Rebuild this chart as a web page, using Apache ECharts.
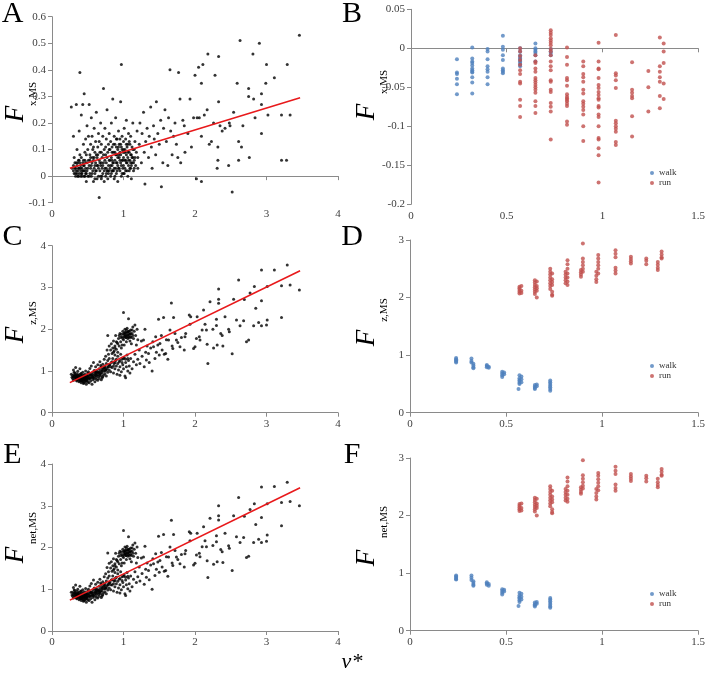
<!DOCTYPE html>
<html><head><meta charset="utf-8">
<script src="https://cdn.jsdelivr.net/npm/echarts@6/dist/echarts.min.js"></script>
<style>html,body{margin:0;padding:0;background:#fff}#c{width:708px;height:679px}</style>
</head><body><div id="c"></div>
<script>
// ---------- Panel A: F_x,MS vs v* (all trials) ----------
const fxTrials = [
[0.27,0.26],[0.3,0.15],[0.3,0.04],[0.3,0.02],[0.32,0.05],[0.33,0.01],[0.33,0.03],[0.34,0.27],[0.35,0.1],[0.35,0.04],[0.36,0.0],[0.36,0.02],[0.37,0.06],[0.37,0.03],[0.38,0.01],[0.38,0.17],[0.39,0.39],[0.39,0.05],[0.4,0.02],[0.4,0.04],[0.4,0.0],[0.41,0.07],[0.41,0.23],[0.42,0.03],[0.42,0.01],[0.43,0.05],[0.43,0.27],[0.44,0.02],[0.44,0.12],[0.45,0.04],[0.45,0.0],[0.45,0.31],[0.46,0.06],[0.46,0.02],[0.47,0.14],[0.47,0.03],[0.48,0.01],[0.48,0.08],[0.48,-0.02],[0.49,0.05],[0.49,0.19],[0.5,0.03],[0.5,0.1],[0.5,0.0],[0.28,0.03],[0.31,0.07],[0.34,0.02],[0.36,0.05],[0.39,0.08],[0.42,0.0],[0.44,0.06],[0.46,0.09],[0.47,0.01],[0.33,0.0],[0.38,0.03],
[0.51,0.15],[0.52,0.04],[0.52,0.27],[0.53,0.01],[0.53,0.08],[0.54,0.12],[0.54,0.03],[0.55,0.22],[0.55,0.0],[0.56,0.05],[0.56,0.15],[0.57,0.02],[0.57,0.1],[0.58,0.06],[0.58,-0.02],[0.59,0.18],[0.59,0.03],[0.6,0.09],[0.6,0.01],[0.61,0.13],[0.61,0.05],[0.62,0.24],[0.62,0.02],[0.63,0.07],[0.63,-0.01],[0.64,0.11],[0.64,0.04],[0.65,0.16],[0.65,0.0],[0.66,0.06],[0.66,-0.08],[0.67,0.09],[0.67,0.02],[0.68,0.2],[0.68,0.04],[0.69,0.12],[0.69,-0.01],[0.7,0.07],[0.7,0.03],[0.71,0.15],[0.71,0.01],[0.72,0.33],[0.72,0.05],[0.73,0.1],[0.73,-0.02],[0.74,0.18],[0.74,0.03],[0.75,0.08],[0.75,0.0],[0.76,0.14],[0.76,0.05],[0.77,0.25],[0.77,0.02],[0.78,0.09],[0.78,-0.01],[0.79,0.12],[0.79,0.04],[0.8,0.06],[0.8,0.16],[0.62,0.08],[0.66,0.13],[0.7,0.0],[0.74,0.06],[0.78,0.02],[0.57,0.07],[0.53,0.06],[0.6,0.04],[0.69,0.05],[0.76,0.01],[0.8,0.02],
[0.81,0.1],[0.81,0.03],[0.82,0.13],[0.82,0.0],[0.83,0.07],[0.83,0.2],[0.84,0.04],[0.84,0.11],[0.85,0.02],[0.85,0.29],[0.86,0.09],[0.86,0.05],[0.87,0.15],[0.87,-0.01],[0.88,0.06],[0.88,0.12],[0.89,0.03],[0.89,0.22],[0.9,0.08],[0.9,0.01],[0.91,0.14],[0.91,0.05],[0.92,0.1],[0.92,-0.02],[0.93,0.17],[0.93,0.03],[0.94,0.07],[0.94,0.12],[0.95,0.02],[0.95,0.09],[0.96,0.28],[0.96,0.05],[0.97,0.42],[0.97,0.11],[0.97,0.0],[0.98,0.06],[0.98,0.15],[0.99,0.03],[0.99,0.09],[1.0,0.13],[1.0,0.04],[1.0,0.07],[1.01,0.18],[1.01,0.01],[1.02,0.1],[1.02,0.06],[1.03,0.14],[1.03,0.02],[1.04,0.08],[1.04,0.21],[1.05,0.05],[1.05,0.11],[1.06,0.0],[1.06,0.07],[1.07,0.16],[1.07,0.04],[1.08,0.09],[1.08,0.02],[1.09,0.12],[1.09,0.06],[1.1,0.03],[1.1,0.15],[1.11,0.08],[1.11,-0.01],[1.12,0.11],[1.12,0.05],[1.13,0.2],[1.13,0.07],[1.14,0.02],[1.15,0.1],[1.15,0.06],[1.16,0.13],[1.17,0.04],[1.18,0.09],[1.19,0.17],[1.2,0.03],[1.2,0.07],[0.9,0.11],[0.95,0.06],[1.02,0.09],[1.06,0.12],[0.86,0.02],[0.93,0.08],[1.1,0.05],[0.84,0.06],
[0.31,0.01],[0.32,0.03],[0.34,0.05],[0.35,0.01],[0.37,0.0],[0.38,0.06],[0.4,0.03],[0.41,0.01],[0.43,0.02],[0.44,0.04],[0.46,0.0],[0.47,0.05],[0.49,0.02],[0.51,0.06],[0.52,0.0],[0.54,0.07],[0.55,0.04],[0.56,0.01],[0.58,0.11],[0.59,0.07],[0.6,-0.01],[0.61,0.02],[0.63,0.04],[0.64,0.08],[0.65,0.03],[0.67,0.05],[0.68,0.0],[0.69,0.09],[0.71,0.04],[0.72,0.08],[0.73,0.02],[0.75,0.11],[0.76,0.03],[0.77,0.07],[0.79,0.01],[0.8,0.1],[0.81,0.06],[0.82,0.04],[0.83,0.01],[0.84,0.09],[0.85,0.05],[0.86,0.12],[0.87,0.03],[0.88,0.0],[0.89,0.08],[0.9,0.05],[0.91,0.02],[0.92,0.07],[0.93,0.11],[0.94,0.03],[0.95,0.14],[0.96,0.08],[0.97,0.04],[0.98,0.1],[0.99,0.06],[1.0,0.01],[1.01,0.09],[1.02,0.03],[1.03,0.06],[1.04,0.12],[1.05,0.02],[1.06,0.09],[1.07,0.06],[1.08,0.13],[1.09,0.03],[1.1,0.08],[1.11,0.04],[1.12,0.07],[1.13,0.1],[1.14,0.05],[1.15,0.03],[1.16,0.07],[0.92,0.04],[0.98,0.01],[1.04,0.05],[0.88,0.09],[0.96,0.12],[1.0,0.1],[0.84,0.02],[0.9,0.14],
[1.22,0.12],[1.23,0.2],[1.25,0.05],[1.26,0.16],[1.28,0.24],[1.29,0.09],[1.3,-0.03],[1.31,0.13],[1.33,0.18],[1.35,0.07],[1.36,0.15],[1.38,0.26],[1.39,0.11],[1.4,0.03],[1.42,0.19],[1.43,0.14],[1.45,0.08],[1.46,0.28],[1.48,0.16],[1.5,0.12],[1.52,0.21],[1.53,-0.04],[1.55,0.05],[1.56,0.18],[1.58,0.25],[1.6,0.13],[1.62,0.04],[1.63,0.22],[1.65,0.4],[1.66,0.17],[1.68,0.08],[1.7,0.15],[1.72,0.2],[1.74,0.12],[1.76,0.07],[1.77,0.39],[1.79,0.29],[1.8,0.05],[1.83,0.21],[1.85,0.19],[1.86,0.09],[1.9,0.16],[1.93,0.29],[1.95,0.11],[1.98,0.22],
[2.0,0.38],[2.02,-0.01],[2.03,0.22],[2.05,0.41],[2.06,0.22],[2.09,0.35],[2.09,0.15],[2.09,-0.02],[2.11,0.42],[2.13,0.23],[2.17,0.25],[2.18,0.46],[2.2,0.12],[2.26,0.2],[2.28,0.38],[2.31,0.03],[2.32,0.06],[2.32,0.11],[2.33,0.45],[2.33,0.28],[2.35,0.19],[2.38,0.17],[2.47,0.04],[2.48,0.2],[2.49,0.19],[2.52,-0.06],[2.54,0.24],[2.59,0.35],[2.61,0.06],[2.61,0.13],[2.63,0.51],[2.65,0.11],[2.67,0.19],[2.75,0.33],[2.75,0.3],[2.76,0.07],[2.81,0.46],[2.82,0.29],[2.84,0.22],[2.9,0.5],[2.93,0.31],[2.93,0.27],[2.93,0.16],[2.99,0.35],[3.0,0.42],[3.02,0.23],[3.11,0.37],[3.21,0.23],[3.21,0.06],[3.28,0.06],[3.29,0.42],[3.33,0.23],[3.46,0.53],[2.23,0.13],[2.42,0.18]
];
const fxFit = [[0.25,0.03],[3.47,0.295]];

// ---------- Panel C: F_z,MS vs v* ----------
const fzTrials = [
[0.27,0.92],[0.28,0.85],[0.29,0.9],[0.3,0.78],[0.3,1.02],[0.31,0.88],[0.32,0.83],[0.32,0.95],[0.33,0.8],[0.33,1.08],[0.34,0.87],[0.35,0.76],[0.35,0.93],[0.36,0.82],[0.36,0.99],[0.37,0.79],[0.37,0.88],[0.38,0.74],[0.38,0.91],[0.39,0.84],[0.39,1.05],[0.4,0.77],[0.4,0.86],[0.41,0.72],[0.41,0.94],[0.42,0.8],[0.42,0.89],[0.43,0.75],[0.43,0.97],[0.44,0.83],[0.44,0.7],[0.45,0.88],[0.45,0.79],[0.46,0.92],[0.46,0.74],[0.47,0.85],[0.47,1.0],[0.48,0.78],[0.48,0.68],[0.49,0.87],[0.49,0.81],[0.5,0.95],[0.5,0.73],[0.5,0.84],[0.29,0.82],[0.31,0.97],[0.34,0.78],[0.36,0.9],[0.38,0.83],[0.4,0.93],[0.42,0.76],[0.44,0.9],[0.46,0.81],[0.48,0.9],[0.35,0.85],[0.41,0.82],[0.45,0.72],[0.33,0.9],[0.39,0.76],[0.47,0.77],
[0.51,0.8],[0.51,0.98],[0.52,0.88],[0.52,0.72],[0.53,0.93],[0.53,1.06],[0.54,0.83],[0.54,0.76],[0.55,0.9],[0.55,1.12],[0.56,0.85],[0.56,0.68],[0.57,0.97],[0.57,0.79],[0.58,0.9],[0.58,1.2],[0.59,0.82],[0.59,1.01],[0.6,0.88],[0.6,0.74],[0.61,0.95],[0.61,1.1],[0.62,0.85],[0.62,0.8],[0.63,1.0],[0.63,0.91],[0.64,0.78],[0.64,1.15],[0.65,0.87],[0.65,0.96],[0.66,1.05],[0.66,0.82],[0.67,0.93],[0.67,1.22],[0.68,0.88],[0.68,1.0],[0.69,0.79],[0.69,1.1],[0.7,0.95],[0.7,1.04],[0.71,0.86],[0.71,1.16],[0.72,1.0],[0.72,0.9],[0.73,1.08],[0.73,1.28],[0.74,0.93],[0.74,1.12],[0.75,1.02],[0.75,1.35],[0.76,0.88],[0.76,1.18],[0.77,1.06],[0.77,1.5],[0.78,0.97],[0.78,1.25],[0.78,1.85],[0.79,1.1],[0.79,1.4],[0.8,1.02],[0.8,1.6],[0.8,1.3],[0.62,0.97],[0.66,0.9],[0.7,0.83],[0.74,1.0],[0.57,0.86],[0.53,0.82],[0.6,1.0],[0.68,1.13],
[0.81,1.15],[0.82,0.98],[0.83,1.2],[0.84,1.08],[0.85,1.3],[0.86,0.95],[0.87,1.18],[0.88,1.05],[0.89,1.25],[0.9,1.12],[0.91,0.92],[0.92,1.35],[0.93,1.02],[0.94,1.22],[0.95,1.1],[0.96,1.4],[0.97,0.98],[0.98,1.28],[0.99,1.15],[1.0,1.05],[1.01,1.32],[1.02,0.88],[1.03,1.2],[1.04,1.1],[1.05,1.38],[1.06,1.0],[1.07,1.25],[1.08,1.12],[1.1,1.3],[1.12,1.05],[1.14,1.22],[1.16,1.4],[1.18,1.15],[1.2,1.28],[0.88,1.38],[0.95,0.9],[1.03,0.84],[1.09,0.95],
[0.82,1.5],[0.83,1.65],[0.84,1.42],[0.85,1.55],[0.86,1.72],[0.87,1.48],[0.88,1.6],[0.89,1.85],[0.9,1.52],[0.91,1.68],[0.92,1.45],[0.93,1.78],[0.94,1.6],[0.95,1.9],[0.96,1.7],[0.97,1.55],[0.98,1.82],[0.99,1.95],[1.0,1.75],[1.0,2.4],[1.01,1.88],[1.01,1.62],[1.02,2.0],[1.03,1.8],[1.03,1.92],[1.04,1.7],[1.05,1.85],[1.05,2.02],[1.06,1.78],[1.07,1.95],[1.07,2.25],[1.08,1.88],[1.09,1.72],[1.1,1.98],[1.1,1.82],[1.11,1.65],[1.12,1.9],[1.13,2.05],[1.14,1.78],[1.15,1.95],[1.16,2.1],[1.17,1.85],[1.18,1.62],[1.19,2.0],[1.2,1.75],[0.94,1.85],[1.02,1.84],[1.06,1.93],[0.9,1.7],[0.98,1.62],[1.04,1.98],[1.08,1.8],
[0.3,0.86],[0.32,0.91],[0.33,0.85],[0.35,0.81],[0.36,0.87],[0.37,0.84],[0.39,0.8],[0.4,0.89],[0.41,0.77],[0.42,0.85],[0.43,0.81],[0.44,0.78],[0.45,0.84],[0.46,0.86],[0.47,0.81],[0.48,0.85],[0.49,0.76],[0.5,0.89],[0.52,0.84],[0.54,0.9],[0.56,0.92],[0.58,0.84],[0.6,0.93],[0.62,0.9],[0.64,0.95],[0.66,0.98],[0.68,0.94],[0.7,1.0],[0.72,1.05],[0.74,1.07],[0.76,1.02],[0.78,1.1],[0.8,1.15],[0.82,1.1],[0.84,1.22],[0.86,1.12],[0.88,1.2],[0.9,1.28],[0.92,1.18],[0.95,1.25],[0.98,1.2],[1.0,1.3],[1.03,1.28],[1.06,1.3],
[0.96,1.8],[0.97,1.88],[0.99,1.78],[1.0,1.9],[1.01,1.82],[1.02,1.92],[1.03,1.86],[1.04,1.8],[1.05,1.92],[1.06,1.86],[1.07,1.82],[1.08,1.95],[1.09,1.88],[1.1,1.9],[1.11,1.8],[1.12,1.98],[1.13,1.85],[0.92,1.65],[0.88,1.55],[0.86,1.45],
[1.22,1.5],[1.23,1.18],[1.25,1.72],[1.26,1.35],[1.28,1.74],[1.29,1.1],[1.3,2.0],[1.31,1.45],[1.32,1.26],[1.33,1.6],[1.35,1.42],[1.36,1.2],[1.38,1.55],[1.4,1.0],[1.41,1.7],[1.42,1.58],[1.44,1.3],[1.45,1.82],[1.46,1.45],[1.48,1.62],[1.49,2.24],[1.5,1.38],[1.51,1.66],[1.53,1.85],[1.54,1.5],[1.56,2.28],[1.57,1.4],[1.59,1.42],[1.6,1.75],[1.62,1.28],[1.63,1.74],[1.65,1.98],[1.67,2.63],[1.68,1.6],[1.69,1.54],[1.7,2.28],[1.72,1.9],[1.74,1.74],[1.76,1.68],[1.79,1.58],[1.81,1.8],[1.85,1.5],[1.86,1.82],[1.87,1.9],[1.92,2.34],[1.93,2.12],[1.94,2.3],[1.98,1.54],
[2.0,1.58],[2.02,1.78],[2.03,2.3],[2.06,1.82],[2.07,1.74],[2.1,1.98],[2.12,2.46],[2.16,1.98],[2.17,1.64],[2.18,1.18],[2.21,2.66],[2.25,2.0],[2.3,2.09],[2.3,2.24],[2.31,1.62],[2.33,2.96],[2.33,2.72],[2.33,2.62],[2.36,1.9],[2.38,1.85],[2.39,1.6],[2.42,2.3],[2.47,2.0],[2.48,1.94],[2.52,1.41],[2.54,2.72],[2.58,2.22],[2.61,3.18],[2.63,2.08],[2.69,2.71],[2.72,1.7],[2.75,1.74],[2.77,2.87],[2.82,2.08],[2.83,3.02],[2.85,2.5],[2.89,2.16],[2.93,3.42],[2.93,2.68],[2.93,2.08],[3.0,2.1],[3.01,3.02],[3.01,2.22],[3.11,3.42],[3.21,3.04],[3.21,2.28],[3.29,3.54],[3.33,3.06],[3.46,2.94],[2.14,2.12],[2.26,1.55],[2.68,2.2]
];
const fzFit = [[0.25,0.72],[3.47,3.4]];

// ---------- Panel E: F_net,MS vs v* ----------
const fnetTrials = [
[0.27,0.93],[0.28,0.86],[0.29,0.92],[0.3,0.79],[0.3,1.04],[0.31,0.9],[0.32,0.84],[0.32,0.97],[0.33,0.81],[0.33,1.1],[0.34,0.88],[0.35,0.77],[0.35,0.95],[0.36,0.83],[0.36,1.0],[0.37,0.8],[0.37,0.9],[0.38,0.75],[0.38,0.93],[0.39,0.85],[0.39,1.07],[0.4,0.78],[0.4,0.87],[0.41,0.73],[0.41,0.96],[0.42,0.81],[0.42,0.9],[0.43,0.76],[0.43,0.99],[0.44,0.84],[0.44,0.71],[0.45,0.89],[0.45,0.8],[0.46,0.94],[0.46,0.75],[0.47,0.86],[0.47,1.02],[0.48,0.79],[0.48,0.69],[0.49,0.88],[0.49,0.82],[0.5,0.96],[0.5,0.74],[0.5,0.85],[0.29,0.83],[0.31,0.98],[0.34,0.79],[0.36,0.91],[0.38,0.84],[0.4,0.95],[0.42,0.77],[0.44,0.92],[0.46,0.82],[0.48,0.91],[0.35,0.86],[0.41,0.83],[0.45,0.73],[0.33,0.91],[0.39,0.78],[0.47,0.78],
[0.51,0.81],[0.51,1.0],[0.52,0.89],[0.52,0.73],[0.53,0.94],[0.53,1.08],[0.54,0.84],[0.54,0.77],[0.55,0.92],[0.55,1.14],[0.56,0.86],[0.56,0.69],[0.57,0.98],[0.57,0.8],[0.58,0.91],[0.58,1.22],[0.59,0.83],[0.59,1.03],[0.6,0.89],[0.6,0.75],[0.61,0.96],[0.61,1.12],[0.62,0.86],[0.62,0.81],[0.63,1.01],[0.63,0.92],[0.64,0.79],[0.64,1.17],[0.65,0.88],[0.65,0.97],[0.66,1.07],[0.66,0.83],[0.67,0.94],[0.67,1.24],[0.68,0.89],[0.68,1.02],[0.69,0.8],[0.69,1.12],[0.7,0.96],[0.7,1.06],[0.71,0.87],[0.71,1.18],[0.72,1.01],[0.72,0.91],[0.73,1.1],[0.73,1.3],[0.74,0.94],[0.74,1.14],[0.75,1.03],[0.75,1.37],[0.76,0.89],[0.76,1.2],[0.77,1.08],[0.77,1.52],[0.78,0.98],[0.78,1.27],[0.78,1.87],[0.79,1.12],[0.79,1.42],[0.8,1.03],[0.8,1.62],[0.8,1.32],[0.62,0.98],[0.66,0.91],[0.7,0.84],[0.74,1.01],[0.57,0.87],[0.53,0.83],[0.6,1.01],[0.68,1.15],
[0.81,1.16],[0.82,0.99],[0.83,1.22],[0.84,1.1],[0.85,1.32],[0.86,0.96],[0.87,1.2],[0.88,1.06],[0.89,1.27],[0.9,1.13],[0.91,0.93],[0.92,1.37],[0.93,1.03],[0.94,1.24],[0.95,1.11],[0.96,1.42],[0.97,0.99],[0.98,1.3],[0.99,1.16],[1.0,1.06],[1.01,1.34],[1.02,0.89],[1.03,1.22],[1.04,1.11],[1.05,1.4],[1.06,1.01],[1.07,1.27],[1.08,1.13],[1.1,1.32],[1.12,1.06],[1.14,1.24],[1.16,1.42],[1.18,1.16],[1.2,1.3],[0.88,1.4],[0.95,0.91],[1.03,0.85],[1.09,0.96],
[0.82,1.51],[0.83,1.66],[0.84,1.43],[0.85,1.56],[0.86,1.73],[0.87,1.49],[0.88,1.61],[0.89,1.86],[0.9,1.53],[0.91,1.69],[0.92,1.46],[0.93,1.79],[0.94,1.61],[0.95,1.91],[0.96,1.71],[0.97,1.56],[0.98,1.83],[0.99,1.96],[1.0,1.76],[1.0,2.41],[1.01,1.89],[1.01,1.63],[1.02,2.01],[1.03,1.81],[1.03,1.93],[1.04,1.71],[1.05,1.86],[1.05,2.03],[1.06,1.79],[1.07,1.96],[1.07,2.26],[1.08,1.89],[1.09,1.73],[1.1,1.99],[1.1,1.83],[1.11,1.66],[1.12,1.91],[1.13,2.06],[1.14,1.79],[1.15,1.96],[1.16,2.11],[1.17,1.86],[1.18,1.63],[1.19,2.01],[1.2,1.76],[0.94,1.86],[1.02,1.85],[1.06,1.94],[0.9,1.71],[0.98,1.63],[1.04,1.99],[1.08,1.81],
[0.3,0.87],[0.32,0.92],[0.33,0.86],[0.35,0.82],[0.36,0.88],[0.37,0.85],[0.39,0.81],[0.4,0.9],[0.41,0.78],[0.42,0.86],[0.43,0.82],[0.44,0.79],[0.45,0.85],[0.46,0.87],[0.47,0.82],[0.48,0.86],[0.49,0.77],[0.5,0.9],[0.52,0.85],[0.54,0.91],[0.56,0.93],[0.58,0.85],[0.6,0.94],[0.62,0.91],[0.64,0.96],[0.66,0.99],[0.68,0.95],[0.7,1.01],[0.72,1.06],[0.74,1.08],[0.76,1.03],[0.78,1.11],[0.8,1.16],[0.82,1.11],[0.84,1.23],[0.86,1.13],[0.88,1.21],[0.9,1.29],[0.92,1.19],[0.95,1.26],[0.98,1.21],[1.0,1.31],[1.03,1.29],[1.06,1.31],
[0.96,1.81],[0.97,1.89],[0.99,1.79],[1.0,1.91],[1.01,1.83],[1.02,1.93],[1.03,1.87],[1.04,1.81],[1.05,1.93],[1.06,1.87],[1.07,1.83],[1.08,1.96],[1.09,1.89],[1.1,1.91],[1.11,1.81],[1.12,1.99],[1.13,1.86],[0.92,1.66],[0.88,1.56],[0.86,1.46],
[1.22,1.53],[1.23,1.2],[1.25,1.75],[1.26,1.38],[1.28,1.77],[1.29,1.12],[1.3,2.03],[1.31,1.48],[1.32,1.29],[1.33,1.63],[1.35,1.45],[1.36,1.23],[1.38,1.58],[1.4,1.0],[1.41,1.73],[1.42,1.61],[1.44,1.33],[1.45,1.85],[1.46,1.48],[1.48,1.65],[1.49,2.27],[1.5,1.41],[1.51,1.69],[1.53,1.88],[1.54,1.53],[1.56,2.31],[1.57,1.43],[1.59,1.45],[1.6,1.78],[1.62,1.31],[1.63,1.77],[1.65,2.01],[1.67,2.65],[1.68,1.63],[1.69,1.57],[1.7,2.31],[1.72,1.93],[1.74,1.77],[1.76,1.71],[1.79,1.61],[1.81,1.83],[1.85,1.53],[1.86,1.85],[1.87,1.93],[1.92,2.38],[1.93,2.16],[1.94,2.34],[1.98,1.58],
[2.0,1.62],[2.02,1.82],[2.03,2.34],[2.06,1.86],[2.07,1.78],[2.1,2.02],[2.12,2.5],[2.16,2.02],[2.17,1.68],[2.18,1.28],[2.21,2.7],[2.25,2.05],[2.3,2.14],[2.3,2.28],[2.31,1.66],[2.33,3.0],[2.33,2.76],[2.33,2.66],[2.36,1.95],[2.38,1.9],[2.39,1.64],[2.42,2.34],[2.47,2.04],[2.48,1.98],[2.52,1.45],[2.54,2.76],[2.58,2.26],[2.61,3.2],[2.63,2.12],[2.69,2.75],[2.72,1.76],[2.75,1.79],[2.77,2.91],[2.82,2.12],[2.83,3.05],[2.85,2.55],[2.89,2.2],[2.93,3.45],[2.93,2.72],[2.93,2.12],[3.0,2.15],[3.01,3.05],[3.01,2.3],[3.11,3.46],[3.21,3.08],[3.21,2.52],[3.29,3.56],[3.33,3.1],[3.46,3.0],[2.14,2.16],[2.26,1.6],[2.68,2.24]
];
const fnetFit = [[0.25,0.74],[3.47,3.43]];

// ---------- Panel B: F_x,MS single subject (speed, values) ----------
const bWalk = [
[0.24,[-0.014,-0.031,-0.033,-0.039,-0.046,-0.059]],
[0.32,[0.001,-0.013,-0.017,-0.019,-0.022,-0.026,-0.028,-0.030,-0.031,-0.037,-0.044,-0.058]],
[0.40,[-0.001,-0.004,-0.014,-0.023,-0.027,-0.030,-0.037,-0.046]],
[0.48,[0.016,0.002,-0.002,-0.009,-0.015,-0.026,-0.028,-0.030,-0.032]],
[0.57,[0.0,-0.004,-0.009,-0.011,-0.013,-0.015,-0.017,-0.019,-0.021,-0.023]],
[0.65,[0.006,0.0,-0.002,-0.004,-0.006,-0.009,-0.017]],
[0.73,[-0.001,-0.004,-0.006,-0.009]]
];
const bRun = [
[0.57,[0.0,-0.004,-0.010,-0.015,-0.021,-0.028,-0.033,-0.043,-0.045,-0.066,-0.074,-0.088]],
[0.65,[-0.009,-0.017,-0.019,-0.026,-0.030,-0.038,-0.041,-0.044,-0.047,-0.050,-0.053,-0.057,-0.068,-0.074,-0.083]],
[0.73,[0.023,0.020,0.017,0.013,0.010,0.007,0.004,-0.001,-0.004,-0.009,-0.017,-0.023,-0.028,-0.041,-0.043,-0.053,-0.056,-0.070,-0.075,-0.081,-0.117]],
[0.815,[0.001,-0.011,-0.021,-0.038,-0.041,-0.048,-0.059,-0.062,-0.064,-0.066,-0.068,-0.071,-0.074,-0.094,-0.098]],
[0.90,[-0.017,-0.023,-0.033,-0.037,-0.043,-0.053,-0.058,-0.068,-0.071,-0.075,-0.079,-0.085,-0.100,-0.119]],
[0.98,[0.007,-0.017,-0.026,-0.027,-0.038,-0.047,-0.051,-0.056,-0.060,-0.064,-0.066,-0.074,-0.076,-0.085,-0.088,-0.100,-0.115,-0.117,-0.128,-0.137,-0.172]],
[1.07,[0.017,-0.032,-0.035,-0.041,-0.051,-0.093,-0.096,-0.100,-0.103,-0.107,-0.120,-0.124]],
[1.155,[-0.018,-0.053,-0.057,-0.061,-0.064,-0.087,-0.113]],
[1.24,[-0.029,-0.050,-0.081]],
[1.30,[0.014,-0.023,-0.030,-0.037,-0.043,-0.061,-0.077]],
[1.32,[0.006,-0.004,-0.019,-0.045,-0.065]]
];

// ---------- Panel D: F_z,MS single subject ----------
const dWalk = [
[0.24,[0.95,0.93,0.91,0.89,0.87]],[0.32,[0.94,0.9,0.87]],[0.33,[0.85,0.82,0.79,0.77]],
[0.40,[0.83,0.81,0.79]],[0.41,[0.8,0.78]],[0.48,[0.71,0.68,0.65,0.62]],[0.49,[0.7,0.67]],
[0.57,[0.65,0.6,0.57,0.55,0.52,0.5]],[0.58,[0.63,0.58,0.53]],[0.565,[0.41]],
[0.65,[0.48,0.45,0.43,0.41]],[0.66,[0.49,0.46]],[0.73,[0.56,0.53,0.5,0.47,0.44,0.41,0.38]]
];
const dRun = [
[0.57,[2.19,2.16,2.13,2.1,2.07]],[0.58,[2.2,2.12,2.08]],
[0.65,[2.3,2.26,2.22,2.18,2.14,2.1,2.06]],[0.66,[2.28,2.2,2.16,2.12,2.0]],
[0.73,[2.5,2.45,2.4,2.35,2.3,2.25,2.2,2.15]],[0.74,[2.42,2.32,2.27,2.22,2.1,2.05,2.03]],
[0.81,[2.45,2.4,2.35,2.3,2.25]],[0.82,[2.65,2.58,2.5,2.42,2.35,2.28,2.22]],
[0.89,[2.48,2.44,2.4,2.36]],[0.90,[2.94,2.68,2.62,2.56,2.5,2.45]],
[0.97,[2.45,2.38,2.32,2.27]],[0.98,[2.74,2.68,2.62,2.56,2.5,2.42]],
[1.07,[2.82,2.76,2.7,2.52,2.47,2.42]],[1.15,[2.71,2.67,2.63,2.59]],
[1.23,[2.68,2.64,2.58]],[1.29,[2.62,2.57,2.52,2.48]],[1.31,[2.8,2.75,2.7,2.68]]
];

// ---------- Panel F: F_net,MS single subject ----------
const fWalk = [
[0.24,[0.96,0.94,0.92,0.9,0.89]],[0.32,[0.96,0.92,0.88]],[0.33,[0.86,0.83,0.8,0.78]],
[0.40,[0.84,0.82,0.8]],[0.41,[0.81,0.78]],[0.48,[0.72,0.69,0.66,0.63]],[0.49,[0.71,0.68]],
[0.57,[0.66,0.61,0.58,0.56,0.53,0.5]],[0.58,[0.64,0.59,0.54]],[0.565,[0.43]],
[0.65,[0.49,0.46,0.44,0.42]],[0.66,[0.5,0.47]],[0.73,[0.57,0.54,0.51,0.48,0.45,0.42,0.4]]
];
const fRun = [
[0.57,[2.2,2.17,2.14,2.11,2.08]],[0.58,[2.21,2.13,2.09]],
[0.65,[2.31,2.27,2.23,2.19,2.15,2.11,2.07]],[0.66,[2.29,2.21,2.17,2.13,2.0]],
[0.73,[2.51,2.46,2.41,2.36,2.31,2.26,2.21,2.16]],[0.74,[2.43,2.33,2.28,2.23,2.11,2.06,2.04]],
[0.81,[2.46,2.41,2.36,2.31,2.26]],[0.82,[2.66,2.59,2.51,2.43,2.36,2.29,2.24]],
[0.89,[2.49,2.45,2.41,2.38]],[0.90,[2.96,2.7,2.64,2.58,2.52,2.47]],
[0.97,[2.46,2.39,2.33,2.28]],[0.98,[2.74,2.69,2.63,2.57,2.51,2.44]],
[1.07,[2.85,2.78,2.72,2.54,2.48,2.43]],[1.15,[2.72,2.68,2.64,2.6]],
[1.23,[2.69,2.65,2.59]],[1.29,[2.64,2.58,2.53,2.49]],[1.31,[2.81,2.76,2.71,2.69]]
];

// ---------- axis ranges [min, max, interval] ----------
const axLeftX = [0, 4, 1];
const axAY = [-0.1, 0.6, 0.1];
const axBX = [0, 1.5, 0.5];
const axBY = [-0.2, 0.05, 0.05];
const axCY = [0, 4, 1];
const axDY = [0, 3, 1];
const seriesNames = ['walk', 'run'];

// ---------- drawing ----------
const SERIF = '"Liberation Serif", "Times New Roman", serif';
const AXIS_COLOR = '#8a8a8a';
const LABEL_COLOR = '#404040';
const WALK = '#4F81BD', RUN = '#C0504D';

function expand(cols){ const out=[]; cols.forEach(c=>c[1].forEach(y=>out.push([c[0],y]))); return out; }

const grids = [
  {left:52, top:16.7, width:286, height:186},
  {left:411, top:9.3, width:290, height:195},
  {left:52, top:245.7, width:286, height:167},
  {left:410, top:240, width:291, height:172.7},
  {left:52, top:464, width:286, height:167},
  {left:410, top:458, width:291, height:172.7}
];
function axis(gi, r){
  return {type:'value', gridIndex:gi, min:r[0], max:r[1], interval:r[2],
    axisLine:{show:true, onZero:true, lineStyle:{color:AXIS_COLOR, width:1}},
    axisTick:{show:true, inside:false, length:4, lineStyle:{color:AXIS_COLOR}},
    splitLine:{show:false},
    axisLabel:{fontFamily:SERIF, fontSize:11, color:LABEL_COLOR, margin:6}};
}
const xAxes = [axis(0,axLeftX), axis(1,axBX), axis(2,axLeftX), axis(3,axBX), axis(4,axLeftX), axis(5,axBX)];
const yAxes = [axis(0,axAY), axis(1,axBY), axis(2,axCY), axis(3,axDY), axis(4,axCY), axis(5,axDY)];

function blackScatter(i, data){ return {type:'scatter', xAxisIndex:i, yAxisIndex:i, data, symbol:'circle', symbolSize:3, itemStyle:{color:'#000'}, silent:true, large:false}; }
function fitLine(i, data){ return {type:'line', xAxisIndex:i, yAxisIndex:i, data, symbol:'none', lineStyle:{color:'#e8191b', width:1.6}, silent:true, z:5}; }
function colScatter(i, name, data, color){ return {type:'scatter', name, xAxisIndex:i, yAxisIndex:i, data, symbol:'circle', symbolSize:4, itemStyle:{color}, silent:true}; }

const series = [
  blackScatter(0, fxTrials), fitLine(0, fxFit),
  colScatter(1, seriesNames[0], expand(bWalk), WALK), colScatter(1, seriesNames[1], expand(bRun), RUN),
  blackScatter(2, fzTrials), fitLine(2, fzFit),
  colScatter(3, seriesNames[0], expand(dWalk), WALK), colScatter(3, seriesNames[1], expand(dRun), RUN),
  blackScatter(4, fnetTrials), fitLine(4, fnetFit),
  colScatter(5, seriesNames[0], expand(fWalk), WALK), colScatter(5, seriesNames[1], expand(fRun), RUN)
];

function legendAt(left, top){
  return {data:seriesNames, orient:'vertical', left, top, itemWidth:4, itemHeight:4, itemGap:0, icon:'circle', padding:0,
    selectedMode:false, textStyle:{fontFamily:SERIF, fontSize:9, color:'#333', lineHeight:10}};
}

function txt(x, y, s, size, italic){
  return {type:'text', x, y, silent:true, style:{text:s, fontFamily:SERIF, fontSize:size, fontStyle: italic?'italic':'normal', fill:'#000', align:'center', verticalAlign:'middle'}};
}
function rtxt(x, y, s, size, italic){
  const t = txt(x, y, s, size, italic); t.rotation = Math.PI/2; return t;
}

const graphic = [
  txt(12.5, 14.5, 'A', 30), txt(352, 14.5, 'B', 30),
  txt(12.5, 237.5, 'C', 30), txt(352, 237.5, 'D', 30),
  txt(12.5, 455, 'E', 30), txt(352, 455, 'F', 30),
  rtxt(16, 114, 'F', 27, true), rtxt(33.5, 94, 'x,MS', 11),
  rtxt(367, 112, 'F', 27, true), rtxt(384, 82, 'x,MS', 11),
  rtxt(16, 335, 'F', 27, true), rtxt(33.5, 313, 'z,MS', 11),
  rtxt(367, 338, 'F', 27, true), rtxt(384, 310, 'z,MS', 11),
  rtxt(16, 555, 'F', 27, true), rtxt(33.5, 528, 'net,MS', 11),
  rtxt(367, 558, 'F', 27, true), rtxt(384, 522, 'net,MS', 11),
  txt(352, 662, 'v*', 22, true)
];

const chart = echarts.init(document.getElementById('c'), null, {renderer:'canvas'});
chart.setOption({
  animation:false,
  backgroundColor:'#fff',
  grid:grids, xAxis:xAxes, yAxis:yAxes, series,
  legend:[legendAt(650,168), legendAt(650,361), legendAt(650,589)],
  graphic
});
</script>
</body></html>
